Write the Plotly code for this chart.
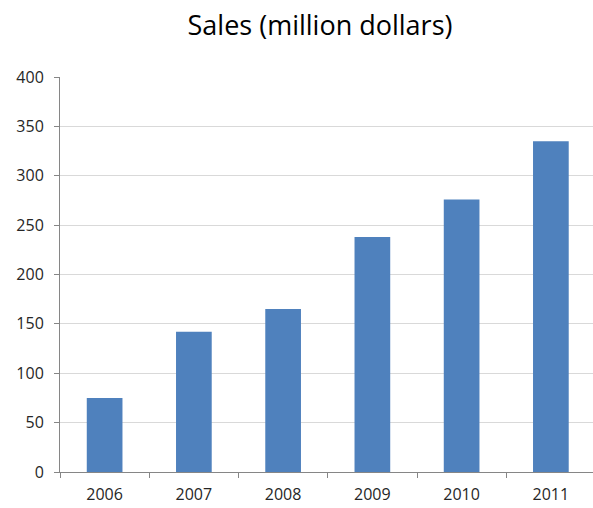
import plotly.graph_objects as go

years = ["2006", "2007", "2008", "2009", "2010", "2011"]
sales = [75, 142, 165, 238, 276, 335]
y_ticks = [0, 50, 100, 150, 200, 250, 300, 350, 400]

fig = go.Figure(go.Bar(
    x=years, y=sales,
    marker=dict(color="#4F81BD", line=dict(width=0)),
    width=0.4,
))

fig.update_layout(
    width=593, height=508,
    margin=dict(l=60, r=0, t=77, b=36),
    paper_bgcolor="white", plot_bgcolor="white",
    showlegend=False,
    title=dict(text="Sales (million dollars)", x=320/593, xanchor="center",
               y=1-26/508, yanchor="middle",
               font=dict(family="Open Sans", size=27, color="#000000")),
    font=dict(family="Open Sans", size=13, color="#333333"),
)
fig.update_xaxes(
    type="category", range=[-0.5, 5.472],
    showline=True, linecolor="#868686", linewidth=1,
    ticks="outside", tickson="boundaries", ticklen=5, tickcolor="#868686",
    showgrid=False, tickfont=dict(size=16, color="#262626"),
    ticklabelstandoff=8,
)
fig.update_yaxes(
    range=[0, 400], tickvals=y_ticks,
    showline=True, linecolor="#868686", linewidth=1,
    ticks="outside", ticklen=5, tickcolor="#868686",
    showgrid=True, gridcolor="#D9D9D9", gridwidth=1,
    zeroline=False, tickfont=dict(size=16, color="#262626"),
    ticklabelstandoff=7,
)
fig.write_html("out.html")
